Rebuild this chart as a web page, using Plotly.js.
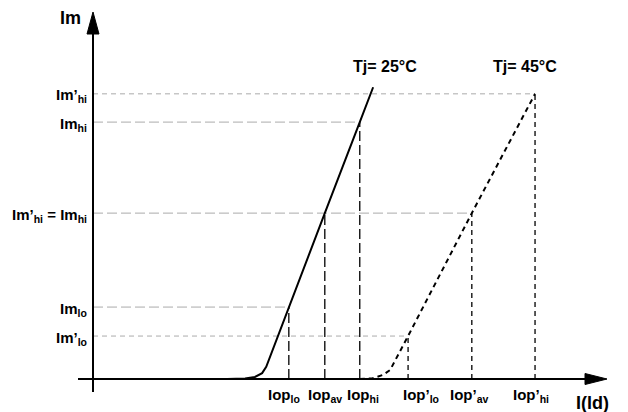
<!DOCTYPE html>
<html>
<head>
<meta charset="utf-8">
<script src="https://cdn.plot.ly/plotly-3.0.1.min.js"></script>
<style>html,body{margin:0;padding:0;background:#fff;}#chart{width:628px;height:412px;}</style>
</head>
<body>
<div id="chart"></div>
<script>
// ---- data (arbitrary units: x = I(ld), y = Im) ----
const curve25X = [26.1, 29.6, 31.5, 32.9, 33.7, 38.1, 45.1, 51.9, 54.5];
const curve25Y = [0, 0.15, 0.55, 1.6, 3.3, 19.6, 45.2, 70.0, 79.5];
const curve45X = [51.9, 54.3, 56.4, 57.8, 61.3, 73.7, 86.0];
const curve45Y = [0, 0.15, 1.1, 2.45, 11.7, 45.2, 77.7];

const iop25 = [38.1, 45.1, 51.9];
const im25 = [19.6, 45.2, 70.0];
const iop45 = [61.3, 73.7, 86.0];
const im45 = [11.7, 45.2, 77.7];

const iop25Labels = ['Iop<sub>lo</sub>', 'Iop<sub>av</sub>', 'Iop<sub>hi</sub>'];
const iop45Labels = ['Iop’<sub>lo</sub>', 'Iop’<sub>av</sub>', 'Iop’<sub>hi</sub>'];
const imLabels = ['Im’<sub>hi</sub>', 'Im<sub>hi</sub>', 'Im’<sub>hi</sub> = Im<sub>hi</sub>', 'Im<sub>lo</sub>', 'Im’<sub>lo</sub>'];
const imLabelValues = [im45[2], im25[2], im25[1], im25[0], im45[0]];
const curveLabels = ['Tj= 25°C', 'Tj= 45°C'];
const xAxisName = 'I(ld)';
const yAxisName = 'Im';
const axisEnd = 100;

// ---- styling / layout ----
const FONT = 'Liberation Sans, Arial, sans-serif';
const traces = [];
const guide = (x, y, color, dash, w) => traces.push({
  x: x, y: y, type: 'scatter', mode: 'lines', hoverinfo: 'skip', showlegend: false,
  line: {color: color, dash: dash, width: w}
});
const longDash = '10px,4px', shortDash = '5px,4px';
const gray = '#ababab';

// horizontal guides 45°C (short dash)
guide([0, iop45[0]], [im45[0], im45[0]], gray, shortDash, 1);
guide([0, iop45[2]], [im45[2], im45[2]], gray, shortDash, 1);
// horizontal guides 25°C (long dash); the middle level is shared by both curves
guide([0, iop25[0]], [im25[0], im25[0]], gray, longDash, 1);
guide([0, Math.max(iop25[1], iop45[1])], [im25[1], im25[1]], gray, longDash, 1);
guide([0, iop25[2]], [im25[2], im25[2]], gray, longDash, 1);
// vertical guides
for (let i = 0; i < 3; i++) {
  guide([iop25[i], iop25[i]], [0, im25[i]], '#000', longDash, 1.3);
  guide([iop45[i], iop45[i]], [0, im45[i]], '#000', shortDash, 1.3);
}
// curves
traces.push({x: curve25X, y: curve25Y, type: 'scatter', mode: 'lines', showlegend: false,
  line: {color: '#000', width: 2}});
traces.push({x: curve45X, y: curve45Y, type: 'scatter', mode: 'lines', showlegend: false,
  line: {color: '#000', width: 2, dash: '5px,4px'}});

const pxX = 5.14, pxY = 3.67; // pixels per unit
const ann = [];
const lab = (text, x, y, xa, ya, size, xs, ys) => ann.push({
  text: text, x: x, y: y, xref: 'x', yref: 'y', showarrow: false,
  xanchor: xa, yanchor: ya, xshift: xs || 0, yshift: ys || 0,
  font: {family: FONT, size: size, color: '#000', weight: 'bold'}
});
const xShift25 = [-5, 0, 3];
const xShift45 = [13, -2, -4];
iop25Labels.forEach((t, i) => lab(t, iop25[i], 0, 'center', 'top', 15, xShift25[i], -5));
iop45Labels.forEach((t, i) => lab(t, iop45[i], 0, 'center', 'top', 15, xShift45[i], -5));
imLabels.forEach((t, i) => lab(t, 0, imLabelValues[i], 'right', 'middle', 15, -4, -2));
lab(curveLabels[0], curve25X[curve25X.length - 1], curve25Y[curve25Y.length - 1], 'center', 'bottom', 16, 12, 10);
lab(curveLabels[1], curve45X[curve45X.length - 1], curve45Y[curve45Y.length - 1], 'center', 'bottom', 16, -10, 17);
lab(yAxisName, 0, axisEnd, 'right', 'middle', 18, -10, -6);
lab(xAxisName, axisEnd, 0, 'center', 'top', 18, -15, -12);

const shapes = [
  // x axis line (extends a bit left of origin)
  {type: 'line', xref: 'x', yref: 'y', x0: -15 / pxX, x1: axisEnd - 20 / pxX, y0: 0, y1: 0, line: {color: '#000', width: 2}},
  // y axis line (extends a bit below origin)
  {type: 'line', xref: 'x', yref: 'y', x0: 0, x1: 0, y0: -13 / pxY, y1: axisEnd - 20 / pxY, line: {color: '#000', width: 2}},
  // x arrow head
  {type: 'path', xref: 'x', yref: 'y',
   path: `M ${axisEnd} 0 L ${axisEnd - 22 / pxX} ${5.5 / pxY} L ${axisEnd - 22 / pxX} ${-5.5 / pxY} Z`,
   fillcolor: '#000', line: {color: '#000', width: 1}},
  // y arrow head
  {type: 'path', xref: 'x', yref: 'y',
   path: `M 0 ${axisEnd} L ${6 / pxX} ${axisEnd - 22 / pxY} L ${-6 / pxX} ${axisEnd - 22 / pxY} Z`,
   fillcolor: '#000', line: {color: '#000', width: 1}}
];

const layout = {
  width: 628, height: 412, autosize: false,
  margin: {l: 0, r: 0, t: 0, b: 0},
  paper_bgcolor: '#fff', plot_bgcolor: '#fff',
  xaxis: {range: [-93 / pxX, 535 / pxX], visible: false, fixedrange: true},
  yaxis: {range: [-33 / pxY, 379 / pxY], visible: false, fixedrange: true},
  annotations: ann, shapes: shapes, showlegend: false,
  font: {family: FONT}
};
Plotly.newPlot('chart', traces, layout, {displayModeBar: false, staticPlot: true});
</script>
</body>
</html>
